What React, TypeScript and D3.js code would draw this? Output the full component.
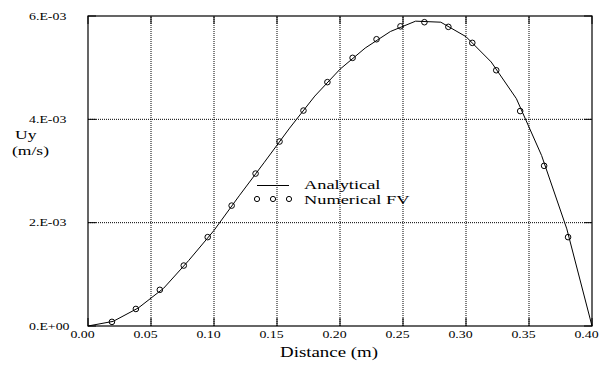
import React, { useEffect, useRef } from 'react';
import * as d3 from 'd3';

// Analytical solution
const analyticalX = [0.00, 0.02, 0.04, 0.06, 0.08, 0.10, 0.12, 0.14, 0.16, 0.18, 0.20,
  0.22, 0.24, 0.26, 0.28, 0.30, 0.32, 0.34, 0.36, 0.38, 0.40];
const analyticalY = [0.0, 0.09, 0.35, 0.73, 1.27, 1.85, 2.52, 3.17, 3.83, 4.45, 4.97,
  5.38, 5.70, 5.90, 5.88, 5.60, 5.11, 4.40, 3.30, 1.88, 0.0];

// Numerical finite volume cell values
const numericalX = [0.019, 0.038, 0.057, 0.076, 0.095, 0.114, 0.133, 0.152, 0.171, 0.190,
  0.210, 0.229, 0.248, 0.267, 0.286, 0.305, 0.324, 0.343, 0.362, 0.381];
const numericalY = [0.08, 0.33, 0.70, 1.17, 1.72, 2.33, 2.95, 3.57, 4.17, 4.72,
  5.19, 5.55, 5.80, 5.88, 5.79, 5.48, 4.95, 4.16, 3.10, 1.72];

const xTicks = [0, 0.05, 0.1, 0.15, 0.2, 0.25, 0.3, 0.35, 0.4];
const yTicks = [0, 2, 4, 6];
const yTickLabels = ['0.E+00', '2.E-03', '4.E-03', '6.E-03'];

const FONT = '"Liberation Serif", "Times New Roman", serif';

const App: React.FC = () => {
  const svgRef = useRef<SVGSVGElement | null>(null);

  useEffect(() => {
    document.body.style.margin = '0';
    if (!svgRef.current) return;
    const width = 608;
    const height = 365;
    const margin = { top: 16, right: 16, bottom: 39, left: 88 };

    const svg = d3.select(svgRef.current);
    svg.selectAll('*').remove();

    const x = d3.scaleLinear().domain([0, 0.4]).range([margin.left, width - margin.right]);
    const y = d3.scaleLinear().domain([0, 6]).range([height - margin.bottom, margin.top]);

    const g = svg.append('g');

    // stretched serif text, like the original output
    const label = (tx: number, ty: number, s: string, size: number, anchor = 'start', sx = 1.26) => {
      g.append('text')
        .attr('transform', `translate(${tx},${ty}) scale(${sx},1)`)
        .attr('text-anchor', anchor)
        .attr('font-family', FONT)
        .attr('font-size', size)
        .attr('fill', '#000')
        .text(s);
    };

    // dotted grid
    g.selectAll('.vgrid').data(xTicks.slice(1, -1)).enter().append('line')
      .attr('x1', d => x(d)).attr('x2', d => x(d))
      .attr('y1', y(0)).attr('y2', y(6))
      .attr('stroke', '#000').attr('stroke-width', 1).attr('stroke-dasharray', '1,1');
    g.selectAll('.hgrid').data(yTicks.slice(1, -1)).enter().append('line')
      .attr('x1', x(0)).attr('x2', x(0.4))
      .attr('y1', d => y(d)).attr('y2', d => y(d))
      .attr('stroke', '#000').attr('stroke-width', 1).attr('stroke-dasharray', '1,1');

    // inside tick marks
    const tl = 8;
    xTicks.forEach(d => {
      g.append('line').attr('x1', x(d)).attr('x2', x(d)).attr('y1', y(0)).attr('y2', y(0) - tl)
        .attr('stroke', '#000');
      g.append('line').attr('x1', x(d)).attr('x2', x(d)).attr('y1', y(6)).attr('y2', y(6) + tl)
        .attr('stroke', '#000');
    });
    yTicks.forEach(d => {
      g.append('line').attr('x1', x(0)).attr('x2', x(0) + tl).attr('y1', y(d)).attr('y2', y(d))
        .attr('stroke', '#000');
      g.append('line').attr('x1', x(0.4)).attr('x2', x(0.4) - tl).attr('y1', y(d)).attr('y2', y(d))
        .attr('stroke', '#000');
    });

    // frame
    g.append('rect')
      .attr('x', x(0)).attr('y', y(6))
      .attr('width', x(0.4) - x(0)).attr('height', y(0) - y(6))
      .attr('fill', 'none').attr('stroke', '#000').attr('stroke-width', 1.2);

    // tick labels
    xTicks.forEach(d => label(x(d) - 5.5, y(0) + 11.5, d.toFixed(2), 11, 'middle'));
    yTicks.forEach((d, i) => label(29, y(d) + 3.5, yTickLabels[i], 11));

    // axis titles
    label(280, 357, 'Distance (m)', 15);
    label(15, 139, 'Uy', 13.5, 'start', 1.3);
    label(12, 155, '(m/s)', 13.5, 'start', 1.3);

    // analytical line
    const line = d3.line<number>()
      .x((_, i) => x(analyticalX[i]))
      .y(d => y(d));
    g.append('path')
      .datum(analyticalY)
      .attr('d', line)
      .attr('fill', 'none').attr('stroke', '#000').attr('stroke-width', 1);

    // numerical points
    g.selectAll('.pt').data(numericalY).enter().append('circle')
      .attr('cx', (_, i) => x(numericalX[i]))
      .attr('cy', d => y(d))
      .attr('r', 2.8)
      .attr('fill', 'none').attr('stroke', '#000').attr('stroke-width', 1);

    // legend
    g.append('line').attr('x1', 257).attr('x2', 289).attr('y1', 185.5).attr('y2', 185.5)
      .attr('stroke', '#000');
    [257, 273, 289].forEach(cx => {
      g.append('circle').attr('cx', cx).attr('cy', 199).attr('r', 2.6)
        .attr('fill', 'none').attr('stroke', '#000');
    });
    label(304, 188.5, 'Analytical', 13.5, 'start', 1.36);
    label(304, 203.5, 'Numerical FV', 13.5, 'start', 1.36);
  }, []);

  return (
    <svg ref={svgRef} width={608} height={365} style={{ display: 'block', background: '#fff' }} />
  );
};

export default App;
